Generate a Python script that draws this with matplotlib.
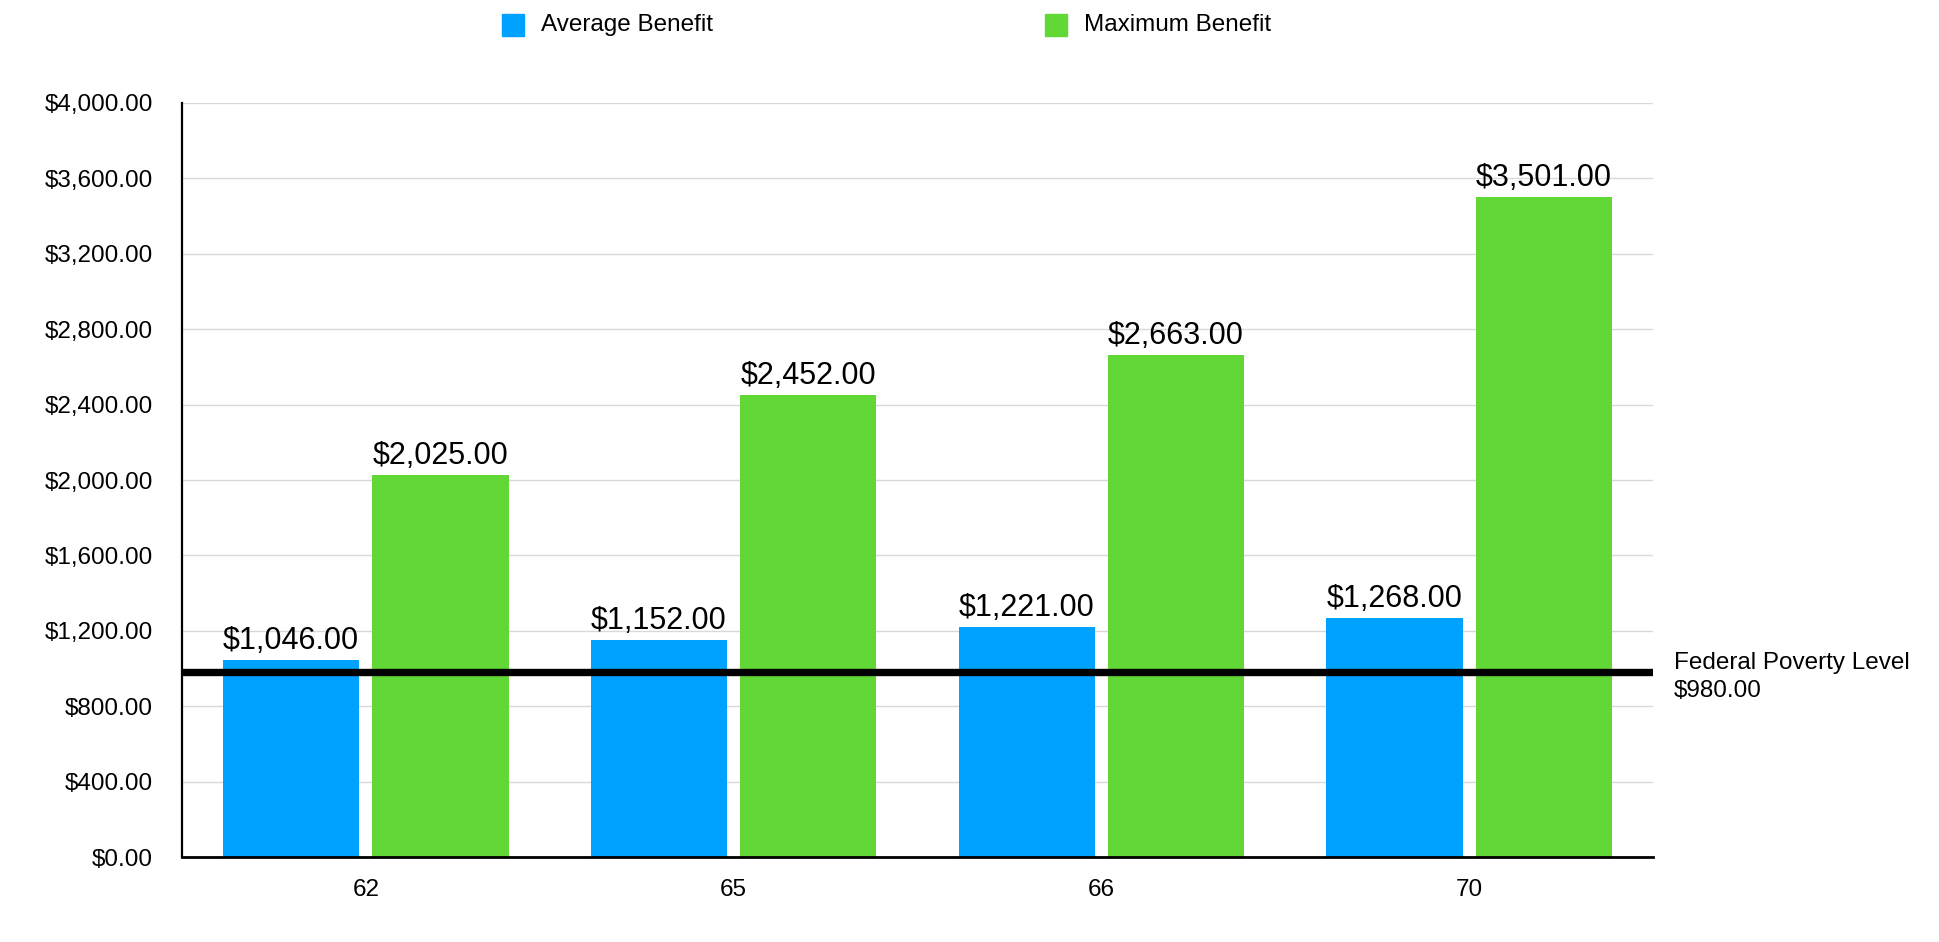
import matplotlib
matplotlib.use("Agg")
import matplotlib.pyplot as plt
from matplotlib.patches import Rectangle
import numpy as np

# ---- data ----
categories = ["62", "65", "66", "70"]
average_benefit = [1046, 1152, 1221, 1268]
maximum_benefit = [2025, 2452, 2663, 3501]
poverty_level = 980
series_names = ["Average Benefit", "Maximum Benefit"]
y_ticks = [0, 400, 800, 1200, 1600, 2000, 2400, 2800, 3200, 3600, 4000]

BLUE = "#00A2FF"
GREEN = "#61D836"

plt.rcParams['font.family'] = ['Liberation Sans', 'DejaVu Sans']

W, H, DPI = 1940, 942, 100
fig = plt.figure(figsize=(W / DPI, H / DPI), dpi=DPI)
ax = fig.add_axes([182 / W, 1 - 857 / H, (1653 - 182) / W, (857 - 103) / H])

x = np.arange(len(categories))
bw = 0.37
off = 0.203
b1 = ax.bar(x - off, average_benefit, width=bw, color=BLUE, zorder=2)
b2 = ax.bar(x + off, maximum_benefit, width=bw, color=GREEN, zorder=2)

def money(v):
    return "${:,.2f}".format(v)

for bars, vals in ((b1, average_benefit), (b2, maximum_benefit)):
    for rect, v in zip(bars, vals):
        ax.annotate(money(v), (rect.get_x() + rect.get_width() / 2, v),
                    xytext=(0, 3), textcoords="offset points",
                    ha="center", va="bottom", fontsize=22, color="black",
                    zorder=4)

ax.axhline(poverty_level, color="black", lw=5.3, zorder=3)
ax.text(1.0143, poverty_level - 25, "Federal Poverty Level\n" + money(poverty_level),
        transform=ax.get_yaxis_transform(), ha="left", va="center",
        fontsize=17.5, linespacing=1.38)

ax.set_xlim(-0.5, len(categories) - 0.5)
ax.set_ylim(0, 4000)
ax.set_yticks(y_ticks)
ax.set_yticklabels([money(t) for t in y_ticks])
ax.set_xticks(x)
ax.set_xticklabels(categories)
ax.tick_params(axis="both", length=0, labelsize=17.5)
ax.tick_params(axis="y", pad=21)
ax.tick_params(axis="x", pad=16)
ax.grid(axis="y", color="#D9D9D9", lw=1.0, zorder=0)
ax.set_axisbelow(True)
for s in ("top", "right"):
    ax.spines[s].set_visible(False)
ax.spines["left"].set_linewidth(1.6)
ax.spines["bottom"].set_linewidth(2.0)

# legend (manual, figure coordinates)
sq = 22
for name, col, x0, tx in ((series_names[0], BLUE, 502, 541),
                          (series_names[1], GREEN, 1045, 1084)):
    fig.patches.append(Rectangle((x0 / W, 1 - 36 / H), sq / W, sq / H,
                                 transform=fig.transFigure, color=col))
    fig.text(tx / W, 1 - 25 / H, name, ha="left", va="center", fontsize=17.5)

fig.savefig("out.png", dpi=DPI)
